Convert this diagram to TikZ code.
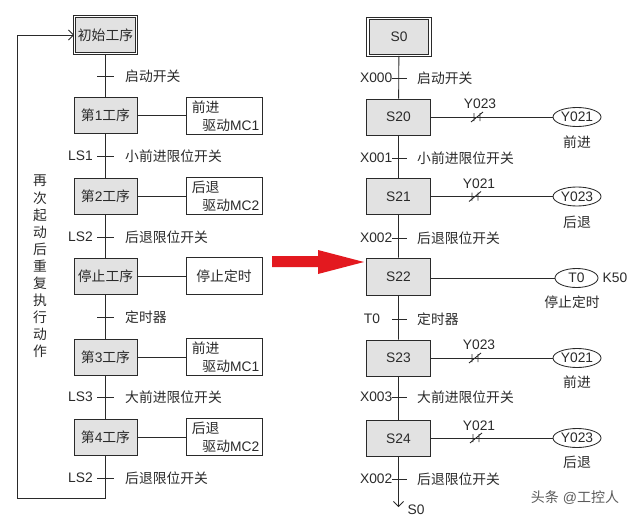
\documentclass[tikz,border=0pt]{standalone}
\usepackage{fontspec}
\setmainfont{Liberation Sans}
\newfontfamily\cjk{Noto Sans CJK SC}
\usetikzlibrary{shapes.geometric,arrows.meta}
\definecolor{boxgray}{HTML}{E2E2E2}
\definecolor{linecol}{HTML}{2A2A2A}
\definecolor{arrowred}{HTML}{E3191F}
\definecolor{wmark}{HTML}{5A5A5A}
\begin{document}
\begin{tikzpicture}[x=1pt,y=-1pt,
  every node/.style={inner sep=0pt, text=linecol, font=\fontsize{13.8}{16}\selectfont},
  lin/.style={draw=linecol, line width=0.85pt},
  stepbox/.style={lin, fill=boxgray, minimum width=63pt, minimum height=36pt},
  initbox/.style={draw=linecol, line width=0.85pt, double=white, double distance=1.4pt, fill=boxgray, minimum width=62pt, minimum height=37pt},
  actbox/.style={lin, fill=white, minimum width=76pt, minimum height=37pt},
  coil/.style={lin, ellipse, fill=white, minimum width=48pt, minimum height=19pt},
  barb/.style={-{Straight Barb[length=5pt,width=10pt]}},
  ncc/.pic={\draw[lin] (-3,-4) -- (-3,4) (3,-4) -- (3,4) (-6,5) -- (6,-5);}
]
\useasboundingbox (0,0) rectangle (640,522);

% ================= LEFT COLUMN =================
\node[initbox] (init) at (105.5,35) {\cjk 初始工序};
\node[stepbox] (p1) at (105.5,115.5) {{\cjk 第}1{\cjk 工序}};
\node[stepbox] (p2) at (105.5,196) {{\cjk 第}2{\cjk 工序}};
\node[stepbox] (pst) at (105.5,276) {\cjk 停止工序};
\node[stepbox] (p3) at (105.5,357) {{\cjk 第}3{\cjk 工序}};
\node[stepbox] (p4) at (105.5,437) {{\cjk 第}4{\cjk 工序}};

\node[actbox] (a1) at (224,115.5) {};
\node[actbox] (a2) at (224,196) {};
\node[actbox] (ast) at (224,276) {\cjk 停止定时};
\node[actbox] (a3) at (224,357) {};
\node[actbox] (a4) at (224,437) {};
\foreach \b/\t/\u in {a1/前进/1, a2/后退/2, a3/前进/1, a4/后退/2}{
  \node[anchor=north west] (\b t) at ([xshift=6pt,yshift=-4pt]\b.north west) {\cjk \t};
  \node[anchor=south east] (\b d) at ([xshift=-3pt,yshift=3pt]\b.south east) {{\cjk 驱动}MC\u};
}
\draw[lin] (p1) -- (a1);
\draw[lin] (p2) -- (a2);
\draw[lin] (pst) -- (ast);
\draw[lin] (p3) -- (a3);
\draw[lin] (p4) -- (a4);

\draw[lin] (init) -- (p1) -- (p2) -- (pst) -- (p3) -- (p4);
\coordinate (lb) at (105.5,498);
\coordinate (lc) at (17,498);
\coordinate (lt) at (17,35);
\draw[lin, barb] (p4.south) -- (lb) -- (lc) -- (lt) -- (init.west);

\foreach \y/\lab/\cond in {76//启动开关, 156/LS1/小前进限位开关, 237/LS2/后退限位开关, 317//定时器, 397/LS3/大前进限位开关, 478/LS2/后退限位开关}{
  \draw[lin] (97,\y) -- (114,\y);
  \node[anchor=west] (lc\y) at (125,\y) {\cjk \cond};
  \node[anchor=east] (ll\y) at (93,\y) {\lab};
}

\foreach \c [count=\i] in {再,次,起,动,后,重,复,执,行,动,作}{
  \node (v\i) at (40,{164+17*\i}) {\cjk \c};
}

% ================= RED ARROW =================
\fill[arrowred] (272,256) -- (318,256) -- (318,250) -- (364,262) -- (318,274) -- (318,267) -- (272,267) -- cycle;

% ================= RIGHT COLUMN =================
\node[initbox] (s0) at (399,37) {S0};
\node[stepbox, minimum width=64pt] (s20) at (398.5,117) {S20};
\node[stepbox, minimum width=64pt] (s21) at (398.5,196.5) {S21};
\node[stepbox, minimum width=64pt, minimum height=37pt] (s22) at (398.5,276.5) {S22};
\node[stepbox, minimum width=64pt] (s23) at (398.5,358) {S23};
\node[stepbox, minimum width=64pt] (s24) at (398.5,438.5) {S24};

\draw[lin] (s0) -- (s20) -- (s21) -- (s22) -- (s23) -- (s24);
\coordinate (rend) at (398.5,507);
\draw[lin, barb] (s24) -- (rend);
\node[anchor=north] (s0ret) at (416,505) {S0};

\foreach \y/\lab/\cond in {78/X000/启动开关, 158/X001/小前进限位开关, 238/X002/后退限位开关, 397/X003/大前进限位开关, 479/X002/后退限位开关}{
  \draw[lin] (392,\y) -- (407,\y);
  \node[anchor=west] (rc\y) at (417,\y) {\cjk \cond};
  \node[anchor=east] (rl\y) at (392.5,\y) {\lab};
}
\draw[lin] (392,319) -- (407,319);
\node[anchor=west] (rc319) at (417,319) {\cjk 定时器};
\node (rl319) at (372,319) {T0};

% outputs
\node[coil] (c20) at (577,117) {Y021};
\node[coil] (c21) at (577,196.5) {Y023};
\node[coil, minimum width=43pt] (c22) at (576.5,278) {T0};
\node[coil] (c23) at (577,358) {Y021};
\node[coil] (c24) at (577,438) {Y023};

\draw[lin] (s20.east |- c20) -- (c20);
\draw[lin] (s21.east |- c21) -- (c21);
\draw[lin] (s22.east |- c22) -- (c22);
\draw[lin] (s23.east |- c23) -- (c23);
\draw[lin] (s24.east |- c24) -- (c24);

\pic at (477,117) {ncc};
\pic at (475,196.5) {ncc};
\pic at (475,358) {ncc};
\pic at (476,438) {ncc};
\node (k20) at (480,104) {Y023};
\node (k21) at (479,184) {Y021};
\node (k23) at (479,345) {Y023};
\node (k24) at (479,425.5) {Y021};

\node (o20) at (577,142) {\cjk 前进};
\node (o21) at (577,222) {\cjk 后退};
\node (o22) at (572,302) {\cjk 停止定时};
\node (o23) at (577,382) {\cjk 前进};
\node (o24) at (577,462) {\cjk 后退};
\node (k50) at (615,278) {K50};

% watermark
\node[text=wmark, font=\fontsize{14}{16}\selectfont] (wm) at (575,498) {{\cjk 头条} @{\cjk 工控人}};
\end{tikzpicture}
\end{document}
